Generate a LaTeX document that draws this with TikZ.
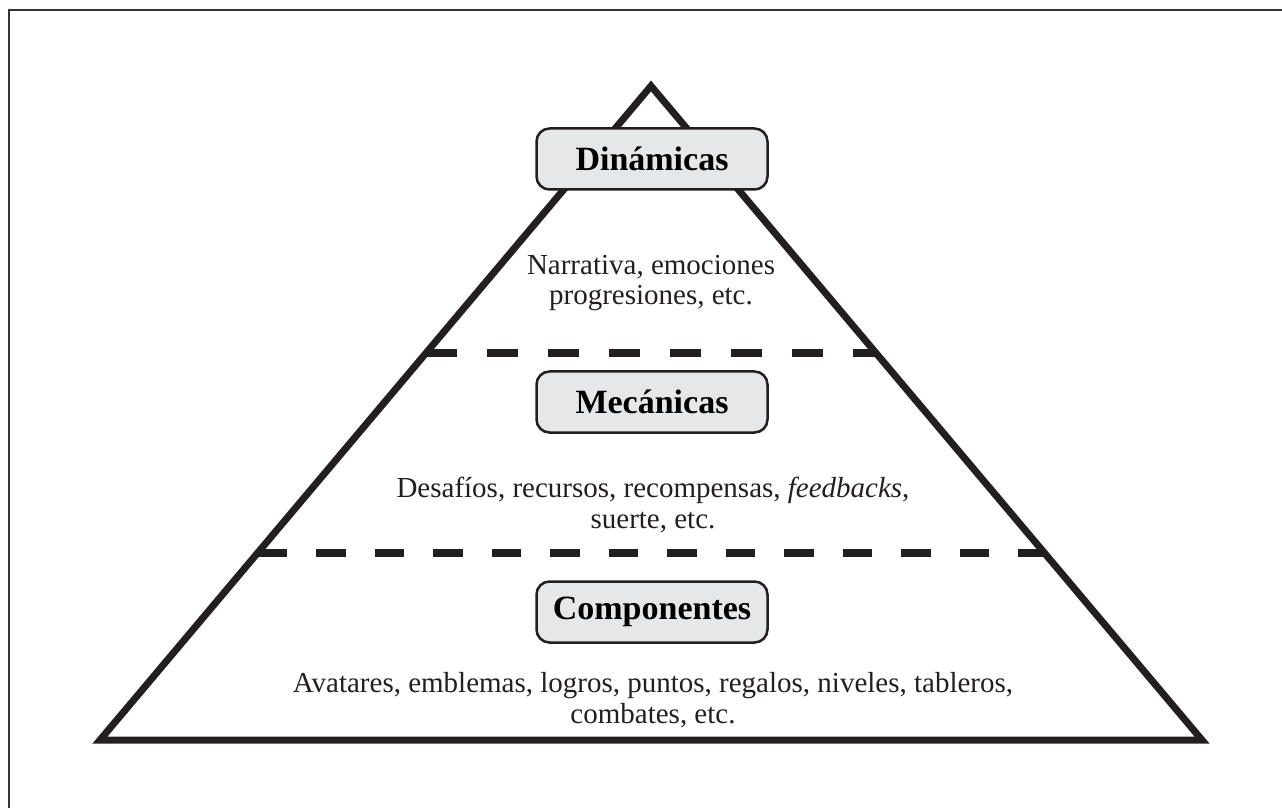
\documentclass[tikz,border=0pt]{standalone}
\usepackage{fontspec}
\setmainfont{Liberation Serif}
\definecolor{ink}{HTML}{231F20}
\definecolor{boxgray}{HTML}{E6E7E8}

\begin{document}
\begin{tikzpicture}[x = 1pt, y = 1pt]
\tikzstyle{LevelStyle}=[shape = rectangle,
                        rounded corners = 13pt,
                        draw = ink,
                        line width = 2.5pt,
                        fill = boxgray,
                        minimum width = 231pt,
                        minimum height = 61pt,
                        inner sep = 0pt,
                        font = \fontsize{34}{37}\selectfont\bfseries]
\tikzstyle{TextStyle}=[align = center, text = ink,
                       font = \fontsize{29}{30.5}\selectfont]
\tikzstyle{SideStyle}=[line width = 7pt, draw = ink]
\tikzstyle{CutStyle}=[line width = 8pt, draw = ink]
\useasboundingbox (0, 0) rectangle (1282, 807);
\draw[line width = 1.5pt, black!80] (9, -10) -- (9, 797) -- (1292, 797);
\coordinate (apex) at (651, 721);
\coordinate (bl) at (100, 67);
\coordinate (br) at (1202, 67);
\coordinate (c1l) at (426, 454);
\coordinate (c1r) at (876, 454);
\coordinate (c2l) at (257.5, 254);
\coordinate (c2r) at (1044.5, 254);
\draw[SideStyle] (apex) -- (bl) -- (br) -- cycle;
\draw[CutStyle, dash pattern = on 31pt off 30pt] (c1l) -- (c1r);
\draw[CutStyle, dash pattern = on 29.5pt off 29pt] (c2l) -- (c2r);
\node[LevelStyle] (dyn) at (652, 648) {Dinámicas};
\node[LevelStyle] (mec) at (652, 405) {Mecánicas};
\node[LevelStyle] (comp) at (652, 195) {Componentes};
\node[TextStyle] (dyntxt) at (651, 524) {Narrativa, emociones\\progresiones, etc.};
\node[TextStyle] (mectxt) at (653, 302) {Desafíos, recursos, recompensas, \textit{feedbacks},\\suerte, etc.};
\node[TextStyle] (comptxt) at (653, 107) {Avatares, emblemas, logros, puntos, regalos, niveles, tableros,\\combates, etc.};
\end{tikzpicture}
\end{document}
